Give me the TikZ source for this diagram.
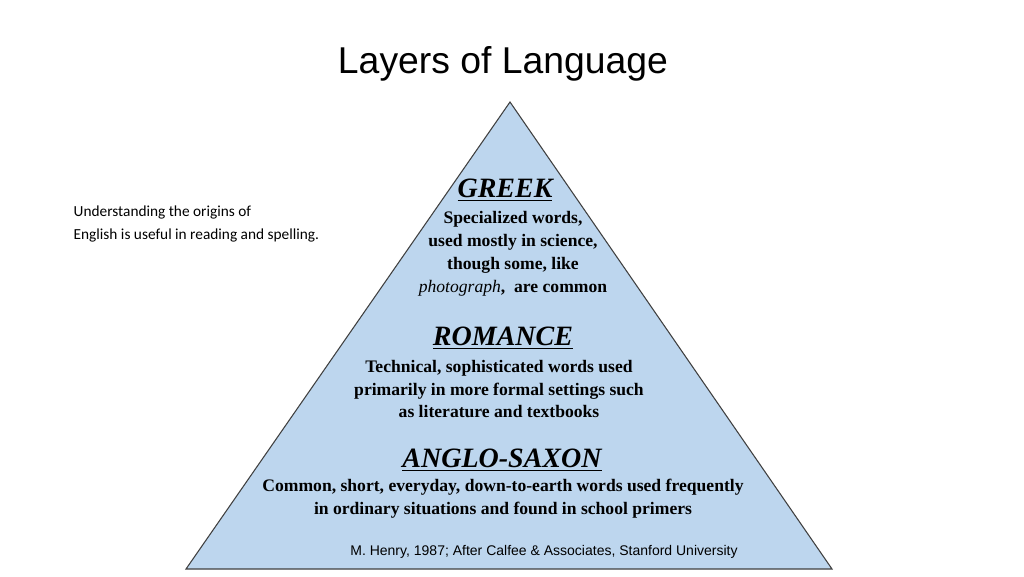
\documentclass[tikz,border=0pt]{standalone}
\usepackage{fontspec}
\setmainfont{Liberation Serif}
\newfontfamily\arialf{Liberation Sans}
\newfontfamily\calib{Carlito}
\definecolor{pyr}{RGB}{189,214,238}
\begin{document}
\begin{tikzpicture}[x=0.75pt,y=-0.75pt,
  head/.style={font=\fontsize{21}{24}\selectfont\bfseries\itshape},
  body/.style={font=\fontsize{13.2}{17.2}\selectfont\bfseries,align=center}]
\useasboundingbox (0,0) rectangle (1024,576);
\fill[white] (0,0) rectangle (1024,576);
\draw[fill=pyr,draw=black!75,line width=0.8pt] (510,102) coordinate (apex) -- (832,569) coordinate (br) -- (186,569) coordinate (bl) -- cycle;
\node (title) at (503,64) {\arialf\fontsize{28}{32}\selectfont Layers of Language};
\node[align=left,anchor=west,font=\calib\fontsize{11.5}{17}\selectfont] (note) at (69,224) {Understanding the origins of\\English is useful in reading and spelling.};
\node[head] (greek) at (505,190) {\underline{GREEK}};
\node[body] (gt) at (513,254) {Specialized words,\\used mostly in science,\\though some, like\\\textmd{\itshape photograph},\ \ are common};
\node[head] (rom) at (503,338) {\underline{ROMANCE}};
\node[body] (rt) at (499,389) {Technical, sophisticated words used\\primarily in more formal settings such\\as literature and textbooks};
\node[head] (ang) at (502,460) {\underline{ANGLO-SAXON}};
\node[body] (at) at (503,499) {Common, short, everyday, down-to-earth words used frequently\\in ordinary situations and found in school primers};
\node (cite) at (544,552) {\arialf\fontsize{10.5}{12}\selectfont M. Henry, 1987; After Calfee \& Associates, Stanford University};
\end{tikzpicture}
\end{document}
